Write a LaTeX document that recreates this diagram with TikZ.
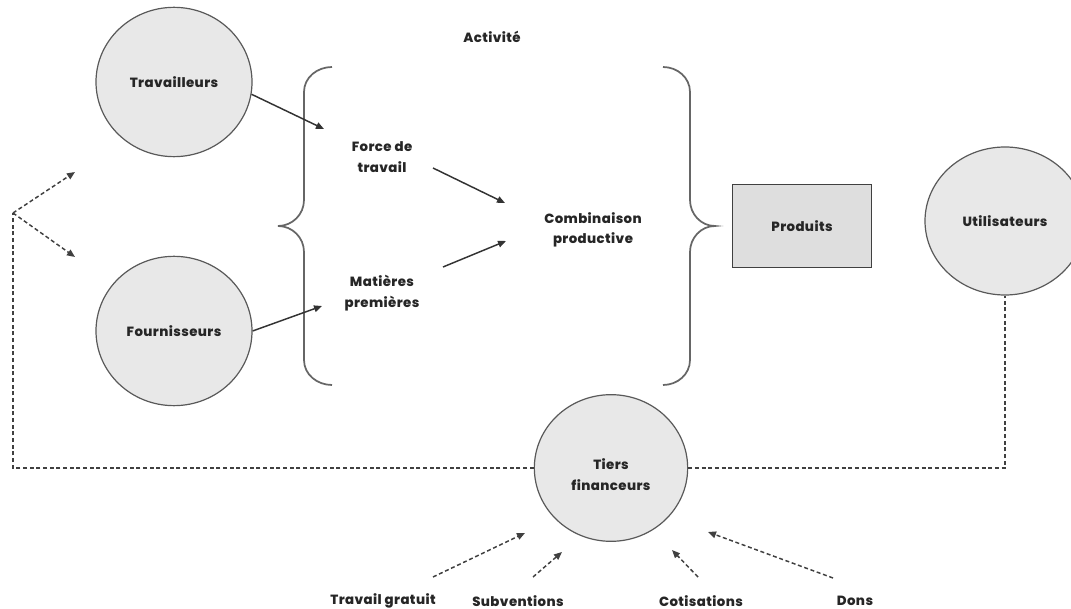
\documentclass[tikz,border=0pt]{standalone}
\usepackage{fontspec}
\setmainfont{Poppins}[BoldFont={Poppins ExtraBold}, LetterSpace=3]
\usetikzlibrary{arrows.meta,shapes.geometric}

\begin{document}
\begin{tikzpicture}[
		x=0.75pt, y=-0.75pt,
		every node/.style={font=\fontsize{10}{15.5}\selectfont\bfseries, text=black!85},
		bubble/.style={ellipse, draw=black!65, line width=0.9pt, fill=black!9, minimum width=117pt, minimum height=112pt, align=center},
		box/.style={draw=black!75, line width=1pt, fill=black!13, minimum width=104pt, minimum height=62pt},
		lbl/.style={align=center},
		arr/.style={draw=black!80, line width=1.1pt, -{Triangle[length=6pt,width=5pt]}},
		flux/.style={draw=black!75, line width=1.1pt, dash pattern=on 3pt off 2pt},
		brace/.style={draw=black!60, line width=1.3pt},
	]
		\useasboundingbox (0,0) rectangle (1071,609);

		\node (activite) [lbl] at (492,37) {Activité};
		\node (trav) [bubble] at (174,82) {Travailleurs};
		\node (four) [bubble] at (174,331) {Fournisseurs};
		\node (force) [lbl] at (382,157) {Force de\\travail};
		\node (mat) [lbl] at (382,293) {Matières\\premières};
		\node (combi) [lbl] at (593,230) {Combinaison\\productive};
		\node (prod) [box] at (802,226) {Produits};
		\node (util) [bubble, minimum width=120pt, minimum height=111pt] at (1005,221) {Utilisateurs};
		\node (tiers) [bubble, minimum width=115pt, minimum height=110pt] at (611,468)
			{\raisebox{-6pt}[\height][\depth]{\begin{tabular}{@{}c@{}}Tiers\\financeurs\end{tabular}}};

		\node (gratuit) [lbl] at (383,601) {Travail gratuit};
		\node (subv) [lbl] at (518,601) {Subventions};
		\node (cotis) [lbl] at (701,601) {Cotisations};
		\node (dons) [lbl] at (855,601) {Dons};

		% braces round the activity
		\draw[brace] (332,67) to[out=180,in=90] (304,92) -- (304,200) to[out=-90,in=0] (278,226)
			to[out=0,in=90] (304,252) -- (304,360) to[out=-90,in=180] (332,385);
		\draw[brace] (663,67) to[out=0,in=90] (690,92) -- (690,200) to[out=-90,in=180] (715,226)
			to[out=180,in=90] (690,252) -- (690,360) to[out=-90,in=0] (663,385);

		\coordinate (fork) at (13,213);
		\coordinate (travIn) at (75,172);
		\coordinate (fourIn) at (75,257);
		\coordinate (forceIn) at (324,129);
		\coordinate (matIn) at (322,306);
		\coordinate (combiIn1) at (505,203);
		\coordinate (combiIn2) at (506,241);
		\coordinate (gratuitIn) at (525,533);
		\coordinate (subvIn) at (562,552);
		\coordinate (cotisIn) at (672,550);
		\coordinate (donsIn) at (708,532);

		\draw[arr] (trav.-9) -- (forceIn);
		\draw[arr] (four.east) -- (matIn);
		\draw[arr] (433,168) -- (combiIn1);
		\draw[arr] (443,267) -- (combiIn2);

		% financing loop
		\draw[flux] (tiers.west) -| (fork);
		\draw[flux, -{Triangle[length=6pt,width=5pt]}] (fork) -- (travIn);
		\draw[flux, -{Triangle[length=6pt,width=5pt]}] (fork) -- (fourIn);
		\draw[flux] (tiers.east) -| (util.south);

		\draw[flux, -{Triangle[length=6pt,width=5pt]}] (433,577) -- (gratuitIn);
		\draw[flux, -{Triangle[length=6pt,width=5pt]}] (533,577) -- (subvIn);
		\draw[flux, -{Triangle[length=6pt,width=5pt]}] (698,577) -- (cotisIn);
		\draw[flux, -{Triangle[length=6pt,width=5pt]}] (833,578) -- (donsIn);
	\end{tikzpicture}
\end{document}
